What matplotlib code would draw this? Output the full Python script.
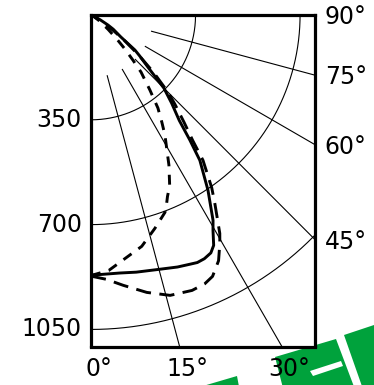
import numpy as np
import matplotlib.pyplot as plt
from matplotlib.patches import Polygon

# === DADOS (cd, ângulo a partir da vertical) ===
aneis = [350, 700, 1050]
ang_raios = [15, 30, 45, 60, 75]
rot_esq = ["350", "700", "1050"]
rot_baixo = [0, 15, 30]
rot_dir = [45, 60, 75, 90]

# curva contínua
ang_cheia = [0, 6.4, 10, 15.3, 19, 21.8, 23.3, 25, 26.8, 28.1, 29.6, 30.8, 33.8,
             36.9, 38.4, 40, 42.5, 45, 47.6, 50, 51.5, 53.7, 57.5, 59.5, 62.5,
             65, 70, 90]
cd_cheia = [869, 867, 872, 880, 890, 896, 900, 898, 890, 872, 827, 798, 704,
            607, 533, 460, 400, 345, 258, 213, 188, 124, 88, 66, 35,
            15, 4, 0]

# tracejado longo
ang_longo = [0, 3.3, 6.8, 11.4, 15.8, 20.2, 23, 25, 27.5, 29.5, 30.6, 33.3, 35,
             37.7, 39.1, 41, 43.3, 45, 47.5, 50, 52.5, 55, 57.5, 60, 65, 90]
cd_longo = [872, 884, 909, 945, 973, 980, 975, 963, 925, 876, 847, 756, 705,
            613, 540, 475, 410, 365, 285, 210, 145, 95, 55, 28, 8, 0]

# tracejado interno
ang_int = [0, 4, 8, 12.4, 16.7, 20.6, 21.8, 22.9, 24.8, 27.5, 31.7, 33.5, 35.8,
           38.2, 41.3, 43, 45, 47, 50, 55, 60, 90]
cd_int = [870, 855, 821, 791, 744, 704, 681, 658, 628, 565, 471, 430, 383,
          319, 254, 205, 160, 120, 75, 35, 12, 0]

xmax, ymax = 750, 1107
r_ini = 210  # raio onde começam as linhas radiais


def polar_xy(ang, r):
    a = np.radians(ang)
    return np.asarray(r) * np.sin(a), -np.asarray(r) * np.cos(a)


fig = plt.figure(figsize=(3.74, 3.85), dpi=100)

# --- logo verde (fundo) ---
verde = "#00a23c"
W, H = 374, 385
def fpoly(pts, cor):
    p = Polygon([(x / W, 1 - y / H) for x, y in pts], closed=True,
                transform=fig.transFigure, facecolor=cor, edgecolor="none", zorder=-1)
    fig.patches.append(p)

fpoly([(203, 386), (237, 376), (240, 392), (203, 392)], verde)
fpoly([(275, 357), (336, 339), (356, 392), (284, 392)], verde)
fpoly([(344, 335), (380, 323), (380, 392), (364, 392)], verde)
fpoly([(310, 371), (341, 361), (343, 366), (313, 376)], "white")

ax = fig.add_axes([91 / W, 38.5 / H, 224 / W, 331.5 / H])
ax.set_xlim(0, xmax)
ax.set_ylim(-ymax, 0)
ax.set_xticks([])
ax.set_yticks([])
for s in ax.spines.values():
    s.set_linewidth(2.3)

# --- grade polar ---
t = np.linspace(0, 90, 300)
for r in aneis:
    x, y = polar_xy(t, r)
    ax.plot(x, y, color="black", lw=0.8)
for a in ang_raios:
    x, y = polar_xy([a, a], [r_ini, 2000])
    ax.plot(x, y, color="black", lw=0.8)

# --- curvas ---
x, y = polar_xy(ang_cheia, cd_cheia)
ax.plot(x, y, color="black", lw=2.1, solid_joinstyle="round")
x, y = polar_xy(ang_longo, cd_longo)
ax.plot(x, y, color="black", lw=2.1, linestyle=(0, (5.2, 2.9)))
x, y = polar_xy(ang_int, cd_int)
ax.plot(x, y, color="black", lw=2.1, linestyle=(0, (3.4, 2.9)))

# --- rótulos ---
fs = 17
for r, txt in zip(aneis, rot_esq):
    ax.annotate(txt, (0, -r), xytext=(-6.5, 0), textcoords="offset points",
                ha="right", va="center", fontsize=fs, annotation_clip=False)
for a in rot_baixo:
    ax.annotate(f"{a}°", (ymax * np.tan(np.radians(a)), -ymax), xytext=(5.5, -7.5),
                textcoords="offset points", ha="center", va="top", fontsize=fs,
                annotation_clip=False)
for a in rot_dir:
    yv = -xmax / np.tan(np.radians(a)) if a < 90 else 0
    ax.annotate(f"{a}°", (xmax, yv), xytext=(7, -1.5), textcoords="offset points",
                ha="left", va="center", fontsize=fs, annotation_clip=False)

plt.savefig("out.png", dpi=100)
